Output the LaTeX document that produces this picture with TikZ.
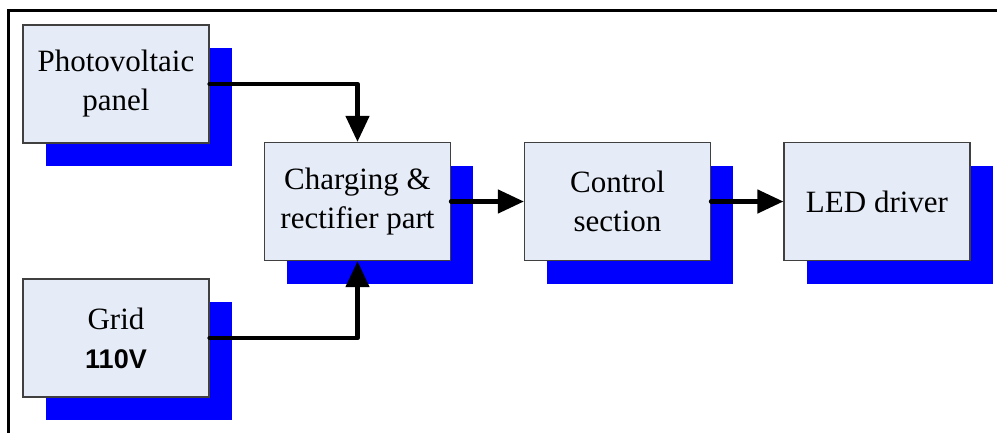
\documentclass[tikz,border=0pt]{standalone}
\usepackage{fontspec}
\setmainfont{Liberation Serif}
\newfontfamily\boldsans{Liberation Sans}
\usetikzlibrary{arrows.meta,shadows}
\definecolor{boxfill}{HTML}{E6ECF7}
\definecolor{boxline}{HTML}{404040}
\begin{document}
\begin{tikzpicture}[x=1pt,y=-1pt,
  blockbox/.style={rectangle, draw=boxline, line width=1.2pt, fill=boxfill,
    minimum width=186pt, minimum height=118pt, inner sep=0pt, align=center,
    font=\fontsize{31}{39}\selectfont,
    drop shadow={shadow xshift=22.5pt, shadow yshift=-23pt, fill=blue, opacity=1}},
  conn/.style={line width=4.5pt, line cap=round, line join=round,
    -{Triangle[length=26pt,width=23pt]}}]
\useasboundingbox (0,0) rectangle (997,432);
\draw[line width=3pt] (8,440) -- (8,10) -- (1000,10);
\node[blockbox] (pv) at (116,84) {Photovoltaic\\panel};
\node[blockbox] (grid) at (116,338) {Grid\\{\boldsans\bfseries\fontsize{27}{39}\selectfont 110V}};
\node[blockbox] (cr) at (357.5,201.5) {Charging \&\\rectifier part};
\node[blockbox] (ctl) at (617.5,201.5) {Control\\section};
\node[blockbox] (led) at (877,201.5) {LED driver};
\draw[conn] (pv.east) -| (cr.north);
\draw[conn] (grid.east) -| (cr.south);
\draw[conn] (cr.east) -- (ctl.west);
\draw[conn] (ctl.east) -- (led.west);
\end{tikzpicture}
\end{document}
